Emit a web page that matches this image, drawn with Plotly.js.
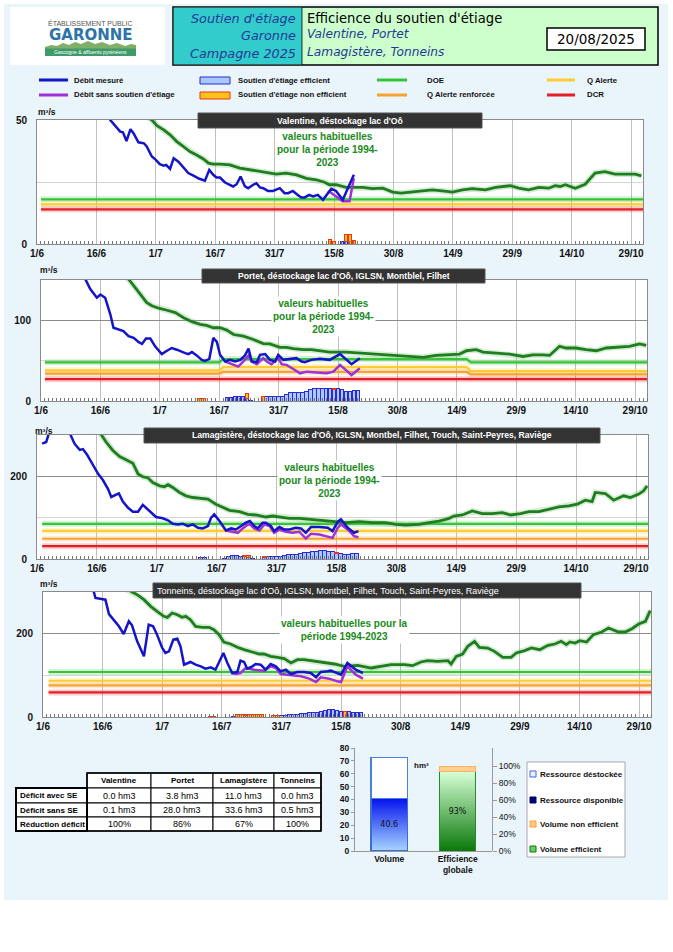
<!DOCTYPE html>
<html><head><meta charset="utf-8">
<script src="https://cdn.plot.ly/plotly-3.0.1.min.js"></script>
<style>html,body{margin:0;padding:0;background:#fff;}#chart{width:673px;height:952px;}</style>
</head><body><div id="chart"></div>
<script>
// ===== DATA (day offsets from 1 June 2025) =====
// Panel 1 : Valentine
const p1MesJ = [1,5,10,15,18.5,19.8,21,21.7,22.6,23.6,24.4,25.6,27,27.7,29,30,31,32,32.6,33.6,34.5,35.7,37,38.2,39.5,41,42.4,43.5,44.5,45.3,46.2,47.4,48.3,49.5,50.4,51.4,52.5,53.3,54.6,55.4,56.3,57.1,58.3,59.6,61.3,62.5,63.4,64.6,65.6,66.7,67.6,68.7,69.7,70.9,72.2,73.4,74.3,75.5,77.2,80];
const p1Mes = [95,85,72,60,50,47.7,45.3,45,41.5,46.3,44.6,41,40.6,39.3,35.3,33.9,32.2,31.6,31.9,30.3,34.6,33.2,30.6,28.6,27.6,26.3,25.5,29.9,27.9,26.8,26.8,24.9,24.1,23.2,24.1,27.2,23.2,22.5,23.9,24.5,22.8,22.5,21.4,21.4,22.5,20.5,20.5,21.4,20.1,18.8,18.8,19.8,19.2,19.8,17.8,20.5,22.3,21.4,17.8,27.9];
const p1SansJ = [73.4,73.8,75,77.2,78.9,80];
const p1Sans = [20.5,21.2,19.8,17.2,17.2,26.5];
const p1RefJ = [1,15,25,29,30.3,32,33.6,35.3,37,38.6,40.3,42,43.3,44.5,46.2,48.7,51.2,53.7,56.2,58.8,60.4,62.9,65.5,68,70.5,72.6,73.8,75.5,78,82.2,84.7,87.3,89.8,91.9,94,96.5,99.8,102.3,104.9,107.4,109.9,113.2,115.8,119.5,121.6,124.1,126.7,129.2,130.8,132.1,133.4,135.9,138.4,140.9,143.4,145.9,148.5,151,152.6];
const p1Ref = [75,62,54,50,47.7,46,44,41.3,39.3,37.3,35.9,34.3,32.6,32.2,32.2,31.9,30.6,29.9,29.2,28.6,28.2,28.6,27.9,26.5,25.9,24.9,23.9,23.9,22.8,22.8,22.3,22.5,20.9,20.5,20.9,21.4,21.8,21.4,20.9,21.8,22.3,21.8,22.8,23.5,22.5,21.8,22.8,22.5,23.5,23.2,23.9,22.5,24.1,28.6,29.2,28.2,28.3,28.2,27.5];
const p1SeuilJ = [1,153];
const p1DOE = [18,18];
const p1QA = [16,16];
const p1QAR = [];
const p1DCR = [14,14];
const p1BarJ = [74,75,77,78,79,80];
const p1Eff = [0,0,1.2,1,0,0];
const p1Non = [1.7,1,0,3,4,1.5];

// Panel 2 : Portet
const p2MesJ = [1,5,9,11.2,12.4,14.1,15,16.2,17.5,18.3,19.6,20.8,22.1,23.4,24.6,25.5,26.5,27.6,28.8,30.5,31.8,33,34.3,35.5,36.4,37.2,38.1,39.3,40.6,41.4,42.5,43.5,44.4,45.2,46.5,47.7,49,50.3,51.5,52.4,53.2,54.5,55.3,56.6,57.8,59.1,59.9,61.2,62.9,64.5,65.8,66.6,68.3,70.4,72.9,75.5,78.4,80.5];
const p2Mes = [230,200,170,151,139,128,132,128,107.5,90.8,88.7,86.6,80.3,78.2,73.2,70.7,77.4,77.4,67.8,58.2,62.3,65.7,63.6,60.7,59.4,58.2,60.7,56.5,51,49.8,52.3,78.2,73.2,57.3,49,51,49,51,56.5,64.9,49,48.1,57.3,58.2,51,49,57.3,51,52.3,53.1,49,48.1,51,52.3,51,58.2,45.6,53.1];
const p2SansJ = [46.5,48.6,49.8,51.1,52.4,53.2,54.5,56.1,57,58.2,59.9,60.8,62,63.7,65.4,67.1,69.6,72.1,73.8,75.5,78.4,80.5];
const p2Sans = [49,44.8,42.7,49,56.5,49,45.6,53.1,49,45.6,53.1,45.6,44.8,39.7,34.3,36.4,35.6,34.3,36.4,44.8,32.2,40.6];
const p2RefJ = [1,10,20,22.1,23.4,25,26.7,28,29.7,31.8,33.9,36,38.1,40.2,41.8,43.5,45.2,46.9,48.6,51.1,53.6,56.1,57.8,60.3,62,63.7,66.2,68.3,70.4,72.9,77.1,81.3,85.5,89.7,93.1,96.5,99.8,103.2,105.7,107.4,109.9,111.6,115,118.3,121.7,124.2,126.7,128.4,129.7,130.9,132.6,135.1,137.6,140.2,142.7,145.2,148.6,151.1,152.8];
const p2Ref = [220,190,160,151,143,132.6,122,118,115,112.5,109.6,103.3,98.3,95,93.7,90.8,90.8,87.9,82.4,80.3,76.2,71.1,70.7,66.5,66.5,64.9,63.6,63.6,62.3,60.7,60.7,59.4,58.2,56.5,55.2,54,56.5,57.3,58.2,62.3,63.6,60.7,59.4,58.2,55.2,57.3,57.3,56.5,62.3,67.8,65.7,65.7,63.6,62.3,65.7,66.5,67.8,70.7,69.1];
const p2SeuilJ = [1,45,46,107.5,108.5,153];
const p2DOE = [48,48,52,52,48,48];
const p2QA = [38,38,42,42,37,37];
const p2QAR = [34,34,36,36,33,33];
const p2DCR = [27,27,27,27,27,27];
const p2BarJ = [40,41,47,48,49,50,51,52,53,56,57,58,59,60,61,62,63,64,65,66,67,68,69,70,71,72,73,74,75,76,77,78,79,80];
const p2Eff = [0,0,4,4,6,6,5,3,1,0,5,5,5,6,6,8,10,11,11,11,12,14,16,16,16,16,15,14,15,14,12,12,13,13];
const p2Non = [3,3,0,0,0,0,0,6,0,5,0,0,0,0,0,0,0,0,0,0,0,0,0,0,0,0,0,1,0,0,0,0,0,0];

// Panel 3 : Lamagistère
const p3MesJ = [1.3,2.3,3.5,5,7,8.3,9.4,10.7,11.5,12.5,14,15.3,16.5,17.8,18.6,19.4,20.5,21.5,22.8,24,25.3,26.5,27.8,29,29.8,31.5,32.8,34,35.3,36.5,37.8,39,40.3,41.5,42.8,43.6,44.4,45.7,47.3,48.6,49.8,51.1,52.3,53.3,54.4,55.3,56.5,57.3,58.6,59.4,60.7,61.9,63.2,64.8,66.1,67.3,68.6,70.7,72.8,74,75.3,76.1,77.8,79.4,80.5];
const p3Mes = [279,283,320,350,330,300,279,264,266,253,228,206,191,169,150,152.8,158.5,139,124,114.6,114.6,131,120,108,101.6,98.4,93.5,85.4,83.7,85.4,79.7,83.7,75.6,74,79.7,100,108,91.9,69.1,74,71.5,79.7,87.8,91.9,79.7,74,87.8,87.8,79.7,67.5,77.2,71.5,71.5,75.6,74,63.4,77.2,77.2,75.6,67.5,90,96,75.6,63.4,67.5];
const p3SansJ = [47.3,49,50.3,51.5,52.8,53.3,54.4,55.7,56.9,58.2,59.4,60.7,62.3,64,65.7,67.3,68.6,70.7,72.8,74,75.3,76.1,77.8,79.4,80.5];
const p3Sans = [69.1,65.9,63.4,74,83.7,83.7,74,69,83.7,79.7,63.4,71.5,65.9,63.4,65.9,49.6,61,59.3,55.3,51.2,75,83.7,71.5,55.3,52.8];
const p3RefJ = [1,10,16,17.3,19,20.7,22.3,24,25.3,26.5,27.8,29,30.7,31.9,32.8,34,35.7,37.3,39,41.5,42.8,44.8,46.5,48.2,50.7,52.8,54.8,57.3,59,61.5,63.2,65.7,68.2,70.7,73.2,77.3,80.7,84,87.3,89.8,92.3,95.7,98.2,100.7,103.2,104.4,106.5,109,111.5,114,116.5,118.6,121.1,123.2,125.7,128.2,130.7,133.2,135.3,137.3,139,139.8,142.3,144.4,146.9,148.6,150.7,151.9,152.8];
const p3Ref = [420,360,302,283,262.6,248,240,231.7,205.7,199,196,185,177,174.8,179.7,173,161,152.8,148.8,147,144.7,132.5,124.4,117.9,114.6,108,106.5,101.6,104,101.6,98.4,98.4,96,93.5,90.2,87.8,90.2,87.8,87.8,83.7,82,83.7,87.8,91.9,98.4,104,106.5,116.3,109.8,109.8,112.2,106.5,109.8,114.6,114.6,120.3,126,128.5,132.5,142.3,139,161,158.5,142.3,152.8,148.8,157,165,177];
const p3SeuilJ = [1.3,153];
const p3DOE = [85,85];
const p3QA = [68,68];
const p3QAR = [49,49];
const p3DCR = [31,31];
const p3BarJ = [41,42,47,48,49,50,51,52,53,54,57,58,59,60,61,62,63,64,65,66,67,68,69,70,71,72,73,74,75,76,77,78,79,80];
const p3Eff = [2.5,2.5,2,5,8,9,7,5,4,1,3,5,5,6,7,8,10,12,12,13,15,15,17,19,20,20,19,17,14,14,12,12,13,13];
const p3Non = [0,0,0,0,0,0,0,3,5,0,2,0,0,0,0,0,0,0,0,0,0,0,0,0,0,0,0,0,2,0,0,0,0,0];

// Panel 4 : Tonneins
const p4MesJ = [1,6,10,12.8,13.2,14.5,15.7,16.6,17.8,19.1,20.3,21.6,22.4,23.7,25.4,26.6,27.7,28.7,30,30.8,31.7,32.8,33.8,34.6,35.5,37.1,38.4,39.7,40.9,42.2,43.4,44.5,45.4,46.4,47.6,48.9,49.7,50.6,51.4,52.7,53.5,54.8,56,57.3,58.6,59.8,61.1,62.4,64,65.7,67.4,68.7,69.9,71.6,72.4,75,76.6,78.7,80.5];
const p4Mes = [420,380,340,300,285.6,284,281.6,247,233.6,217.6,199,229.6,220,181.6,145.6,221.6,217.6,197.6,165.6,153.6,157.6,185.6,188,169.6,125.6,132,125.6,121.6,116,119.2,113.6,133.6,153.6,129.6,105.6,108,135.2,132,116,121.6,127.2,125.6,113.6,127.2,121.6,109.6,113.6,103.2,108,108,105.6,95.2,108,109.6,111.2,101.6,129.6,113.6,105.6];
const p4SansJ = [47.6,48.5,49.7,51,53.1,55.6,57.3,58.6,59.8,61.5,63.2,64.9,67,68.7,69.9,72,74.1,75,76.6,78.7,80.5];
const p4Sans = [105.6,103.2,105.6,117.6,113.6,111.2,121.6,117.6,103.2,101.6,100,97.6,92,84,95.2,92,85.6,84,121.6,101.6,92];
const p4RefJ = [1,15,22.4,23.7,25.4,27.1,28.7,30.4,31.3,32.5,33.8,35,35.9,37.1,38.4,40.1,41.8,43,44.3,45.5,47.2,48.9,50.6,52.7,54.4,55.6,57.3,59,60.7,62.4,64,65.7,67.4,69.1,70.8,73.3,75.8,79.2,82.6,85.2,87.6,91,93,95.1,96.8,99.3,101.9,102.7,104,105.6,106.9,108.6,109.8,111.9,113.6,115.7,117.8,119.1,121.2,122.9,125,127.1,128.8,130.4,131.7,132.6,133.9,135.1,136.8,138.5,140.6,142.3,144.8,146.5,148.2,149.9,151.6,152.8];
const p4Ref = [420,340,300,293.6,281.6,265.6,253.6,241.6,239.2,249.6,245.6,239.2,241.6,233.6,217.6,215.2,215.2,209.6,197.6,180,175.2,167.2,161.6,156,151.2,151.2,145.6,143.2,140,129.6,137.6,137.6,135.2,132,129.6,127.2,121.6,124,117.6,121.6,125.6,125.6,123.2,132,135.2,133.6,135.2,127.2,145.6,151.2,169.6,181.6,167.2,165.6,157.6,143.2,143.2,153.6,159.2,165.6,161.6,172,175.2,181.6,173.6,180,177.6,183.2,180,197.6,204,213.6,204,204,212,223.2,229.6,255.2];
const p4SeuilJ = [1.4,153];
const p4DOE = [108,108];
const p4QA = [87,87];
const p4QAR = [76,76];
const p4DCR = [59,59];
const p4BarJ = [42,43,48,49,50,51,52,53,54,55,58,59,60,61,62,63,64,65,66,67,68,69,70,71,72,73,74,75,76,77,78,79,80];
const p4Eff = [0,0,2,0,0,3,0,0,0,0,0,0,4,4,5,6,7,8,9,10,12,12,14,16,17,17,16,14,0,13,12,12,12];
const p4Non = [2,2,0,5,6,4,6,7,7,5,4,4,0,0,0,0,0,0,0,0,0,0,0,0,0,0,0,0,14,0,0,0,0];

const panelTitles = [
  "Valentine, déstockage lac d'Oô",
  "Portet, déstockage lac d'Oô, IGLSN, Montblel, Filhet",
  "Lamagistère, déstockage lac d'Oô, IGLSN, Montbel, Filhet, Touch, Saint-Peyres, Raviège",
  "Tonneins, déstockage lac d'Oô, IGLSN, Montbel, Filhet, Touch, Saint-Peyres, Raviège"
];
const panelYMax = [50,150,300,300];

// Bottom table
const tableStations = ['Valentine','Portet','Lamagistère','Tonneins'];
const tableRows = ['Déficit avec SE','Déficit sans SE','Réduction déficit'];
const deficitAvecSE = [0.0,3.8,11.0,0.0];
const deficitSansSE = [0.1,28.0,33.6,0.5];
const reductionDeficit = [100,86,67,100];

// Bottom chart
const volRessource = 72.5;   // hm3
const volDestocke = 40.6;    // hm3
const effEfficient = 93;     // %
const effNonEfficient = 7;   // %

// ===== BUILD =====
const W=673,H=952;
const px = x => x/W, py = y => 1 - y/H;
const DAY = 86400000, T0 = Date.UTC(2025,5,1);
const toDate = d => new Date(T0 + d*DAY).toISOString().slice(0,16).replace('T',' ');
const FB = 'Liberation Sans, Arial, sans-serif';
const FN = 'Liberation Sans Narrow, Liberation Sans, Arial, sans-serif';
const FD = 'DejaVu Sans, Verdana, sans-serif';
const C = {mes:'#1414c8', sans:'#a030d8', ref:'#1f7d1f', doe:'#35c435', qa:'#ffcc33', qar:'#f7a234', dcr:'#e41e26',
  effFill:'#a9c8ff', effLine:'#2a2ad0', nonFill:'#ffc21a', nonLine:'#ee3311'};

const traces=[], shapes=[], annotations=[], images=[];
const layout = {width:W, height:H, margin:{l:0,r:0,t:0,b:0}, paper_bgcolor:'#ffffff', plot_bgcolor:'rgba(0,0,0,0)',
  showlegend:false, barmode:'stack', bargap:0, hovermode:false, shapes, annotations, images};

function txt(x,y,text,o){ annotations.push(Object.assign({xref:'paper',yref:'paper',x:px(x),y:py(y),text,showarrow:false,
  xanchor:'left',yanchor:'middle',font:{family:FB,size:8,color:'#111'}},o||{})); }
function rect(x0,y0,x1,y1,fill,line,lw,layer){ shapes.push({type:'rect',xref:'paper',yref:'paper',x0:px(x0),x1:px(x1),y0:py(y1),y1:py(y0),
  fillcolor:fill,line:{color:line||'rgba(0,0,0,0)',width:lw||0},layer:layer||'above'}); }
function seg(x0,y0,x1,y1,color,w){ shapes.push({type:'line',xref:'paper',yref:'paper',x0:px(x0),x1:px(x1),y0:py(y0),y1:py(y1),line:{color,width:w}}); }
function path(pts,fill){ shapes.push({type:'path',xref:'paper',yref:'paper',path:'M'+pts.map(p=>px(p[0]).toFixed(5)+','+py(p[1]).toFixed(5)).join(' L')+' Z',fillcolor:fill,line:{width:0}}); }

// page background
rect(4,4,668,900,'#eaf4fb',null,0,'below');

// ---- Header ----
rect(10,7,165,65,'#ffffff',null,0,'below');
txt(90,22.5,'ÉTABLISSEMENT PUBLIC',{xanchor:'center',font:{family:FN,size:7,color:'#555'}});
txt(90.5,35,'GARONNE',{xanchor:'center',font:{family:FD,size:15,color:'#2c74a8',weight:'bold'}});
path([[45,56],[45,47],[51,45],[57,46],[63,43],[69,45],[75,42],[81,44],[88,41],[95,44],[102,42],[110,45],[117,43],[125,46],[131,44],[136,45],[136,56]],'#7fb069');
rect(45,48.5,136,56,'#3f9a6a',null,0);
txt(90.5,52.3,'Gascogne & affluents pyrénéens',{xanchor:'center',font:{family:FN,size:5,color:'#ffffff'}});

rect(173,7,658,65,'#ccffcc','#000000',1.5);
rect(173.8,7.8,302,64.2,'#33cccc',null,0);
seg(302,7,302,65,'#000',0.8);
const hdrBlue = '#1f3a93';
txt(298,18,"Soutien d'étiage",{xanchor:'right',font:{family:FD,size:12.8,color:hdrBlue,style:'italic'}});
txt(298,36,'Garonne',{xanchor:'right',font:{family:FD,size:12.8,color:hdrBlue,style:'italic'}});
txt(298,53,'Campagne 2025',{xanchor:'right',font:{family:FD,size:12.8,color:hdrBlue,style:'italic'}});
txt(305,18,"Efficience du soutien d'étiage",{font:{family:FD,size:13.2,color:'#000'}});
txt(305,34,'Valentine, Portet',{font:{family:FD,size:12.2,color:hdrBlue,style:'italic'}});
txt(305,52,'Lamagistère, Tonneins',{font:{family:FD,size:12.2,color:hdrBlue,style:'italic'}});
rect(547,28,645,50,'#ffffff','#000000',1.5);
txt(596,39.5,'20/08/2025',{xanchor:'center',font:{family:FD,size:13.5,color:'#000'}});

// ---- Top legend ----
const LF = {family:FN,size:7.8,color:'#111',weight:'bold'};
seg(39,80,68,80,C.mes,3); txt(72,80,'Débit mesuré',{font:LF});
seg(39,95,68,95,C.sans,3); txt(72,95,"Débit sans soutien d'étiage",{font:LF});
rect(200,77,230,84,C.effFill,C.effLine,1); txt(236,80,"Soutien d'étiage efficient",{font:LF});
rect(200,92,230,99,C.nonFill,C.nonLine,1); txt(236,95,"Soutien d'étiage non efficient",{font:LF});
seg(377,80,407,80,C.doe,3); txt(425,80,'DOE',{font:LF});
seg(377,95,407,95,C.qar,3); txt(425,95,'Q Alerte renforcée',{font:LF});
seg(547,80,575,80,C.qa,3); txt(585,80,'Q Alerte',{font:LF});
seg(547,95,575,95,C.dcr,3); txt(585,95,'DCR',{font:LF});

// ---- Panels ----
const panels = [
  {mesJ:p1MesJ,mes:p1Mes,sansJ:p1SansJ,sans:p1Sans,refJ:p1RefJ,ref:p1Ref,sJ:p1SeuilJ,doe:p1DOE,qa:p1QA,qar:p1QAR,dcr:p1DCR,barJ:p1BarJ,eff:p1Eff,non:p1Non,
   box:[37,643,120,244],dt:[50,25],title:[198,482,113,128],mu:[36,112],note:[327,149]},
  {mesJ:p2MesJ,mes:p2Mes,sansJ:p2SansJ,sans:p2Sans,refJ:p2RefJ,ref:p2Ref,sJ:p2SeuilJ,doe:p2DOE,qa:p2QA,qar:p2QAR,dcr:p2DCR,barJ:p2BarJ,eff:p2Eff,non:p2Non,
   box:[41,647,280,401],dt:[100,50],title:[202,485,269,283],mu:[38,270],note:[323,317]},
  {mesJ:p3MesJ,mes:p3Mes,sansJ:p3SansJ,sans:p3Sans,refJ:p3RefJ,ref:p3Ref,sJ:p3SeuilJ,doe:p3DOE,qa:p3QA,qar:p3QAR,dcr:p3DCR,barJ:p3BarJ,eff:p3Eff,non:p3Non,
   box:[37,648,435,559],dt:[200,100],title:[144,600,428,443],mu:[33,431],note:[329,480]},
  {mesJ:p4MesJ,mes:p4Mes,sansJ:p4SansJ,sans:p4Sans,refJ:p4RefJ,ref:p4Ref,sJ:p4SeuilJ,doe:p4DOE,qa:p4QA,qar:p4QAR,dcr:p4DCR,barJ:p4BarJ,eff:p4Eff,non:p4Non,
   box:[43,651,592,717],dt:[200,100],title:[153,581,583,598],mu:[38,584],note:[345,630]}
];
const notes = ['valeurs habituelles<br>pour la période 1994-<br>2023','valeurs habituelles<br>pour la période 1994-<br>2023',
  'valeurs habituelles<br>pour la période 1994-<br>2023','valeurs habituelles pour la<br>période 1994-2023'];

panels.forEach((P,k)=>{
  const n = k+1, xa='x'+n, ya='y'+n;
  const [X0,X1,Y0,Y1] = P.box;
  layout['xaxis'+n] = {domain:[px(X0),px(X1)], anchor:ya, type:'date', range:[toDate(0),toDate(153)],
    tick0:toDate(0), dtick:15*DAY, tickformat:'%-d/%-m', ticks:'', showgrid:true, gridcolor:'#c0c0c0', gridwidth:1,
    showline:true, linecolor:'#8a8a8a', linewidth:1, mirror:true, zeroline:false, fixedrange:true,
    tickfont:{family:FB,size:10,color:'#111',weight:'bold'},
    minor:{dtick:DAY, tick0:toDate(0), ticks:'inside', ticklen:3, tickcolor:'#777', tickwidth:1, showgrid:false}};
  layout['yaxis'+n] = {domain:[py(Y1),py(Y0)], anchor:xa, range:[0,panelYMax[k]], tick0:0, dtick:P.dt[0],
    showgrid:true, gridcolor:'#8c8c8c', gridwidth:1, ticks:'', zeroline:false, fixedrange:true,
    showline:true, linecolor:'#8a8a8a', linewidth:1, mirror:true, ticklabelstandoff:7,
    tickfont:{family:FB,size:10,color:'#111',weight:'bold'},
    minor:{dtick:P.dt[1], tick0:0, showgrid:true, gridcolor:'#d4d4d4', gridwidth:1, ticks:''}};
  shapes.push({type:'rect', xref:xa+' domain', yref:ya+' domain', x0:0,x1:1,y0:0,y1:1, fillcolor:'#ffffff', line:{width:0}, layer:'below'});

  const bx = P.barJ.map(toDate);
  traces.push({type:'bar', x:bx, y:P.eff.map(v=>v||null), xaxis:xa, yaxis:ya, width:DAY*0.9,
    marker:{color:C.effFill, line:{color:C.effLine,width:1}}});
  traces.push({type:'bar', x:bx, y:P.non.map(v=>v||null), xaxis:xa, yaxis:ya, width:DAY*0.9,
    marker:{color:C.nonFill, line:{color:C.nonLine,width:1}}});

  const sx = P.sJ.map(toDate);
  [[P.doe,C.doe],[P.qa,C.qa],[P.qar,C.qar],[P.dcr,C.dcr]].forEach(([v,c])=>{
    if(!v.length) return;
    traces.push({type:'scatter',mode:'lines',x:sx,y:v,xaxis:xa,yaxis:ya,line:{color:c,width:6},opacity:0.22});
    traces.push({type:'scatter',mode:'lines',x:sx,y:v,xaxis:xa,yaxis:ya,line:{color:c,width:2.2}});
  });
  traces.push({type:'scatter',mode:'lines',x:P.refJ.map(toDate),y:P.ref,xaxis:xa,yaxis:ya,line:{color:'#6fbf6f',width:6},opacity:0.3});
  traces.push({type:'scatter',mode:'lines',x:P.refJ.map(toDate),y:P.ref,xaxis:xa,yaxis:ya,line:{color:C.ref,width:2.8}});
  traces.push({type:'scatter',mode:'lines',x:P.sansJ.map(toDate),y:P.sans,xaxis:xa,yaxis:ya,line:{color:C.sans,width:2.5}});
  traces.push({type:'scatter',mode:'lines',x:P.mesJ.map(toDate),y:P.mes,xaxis:xa,yaxis:ya,line:{color:C.mes,width:2.5}});

  const [t0,t1,ty0,ty1] = P.title;
  rect(t0,ty0,t1,ty1,'#333333','#555555',1);
  if(k<3) txt((t0+t1)/2,(ty0+ty1)/2,panelTitles[k],{xanchor:'center',font:{family:FB,size:8.6,color:'#fff',weight:'bold'}});
  else txt(t0+2,(ty0+ty1)/2,panelTitles[k],{font:{family:FB,size:9,color:'#fff'}});
  txt(P.mu[0],P.mu[1],'m³/s',{font:{family:FB,size:8.5,color:'#111',weight:'bold'}});
  txt(P.note[0],P.note[1],notes[k],{xanchor:'center',align:'center',bgcolor:'#ffffff',borderpad:1,
    font:{family:FB,size:10,color:'#1a8a1a',weight:'bold'}});
});

// ---- Table ----
const tX=[16,87,151,213,274,321], tY=[773,788,803,817,831];
for(let c=1;c<=4;c++) rect(tX[c],tY[0],tX[c+1],tY[1],'#ffffff','#000',1);
for(let r=1;r<=3;r++) for(let c=0;c<=4;c++) rect(tX[c],tY[r],tX[c+1],tY[r+1],'#ffffff','#000',1);
rect(tX[0],tY[1],tX[1],tY[4],'rgba(0,0,0,0)','#000',2);
rect(tX[1],tY[0],tX[5],tY[4],'rgba(0,0,0,0)','#000',1.6);
const TH = {family:FN,size:8,color:'#000',weight:'bold'};
tableStations.forEach((s,c)=>txt((tX[c+1]+tX[c+2])/2,(tY[0]+tY[1])/2,s,{xanchor:'center',font:TH}));
tableRows.forEach((s,r)=>txt(tX[0]+2,(tY[r+1]+tY[r+2])/2,s,{font:TH}));
const TV = {family:FB,size:9,color:'#000'};
const rowsVals = [deficitAvecSE.map(v=>v.toFixed(1)+' hm3'), deficitSansSE.map(v=>v.toFixed(1)+' hm3'), reductionDeficit.map(v=>v+'%')];
rowsVals.forEach((row,r)=>row.forEach((s,c)=>txt((tX[c+1]+tX[c+2])/2,(tY[r+1]+tY[r+2])/2,s,{xanchor:'center',font:TV})));

// ---- Bottom bar chart ----
function grad(top,bottom){ const cv=document.createElement('canvas'); cv.width=4; cv.height=256;
  const g=cv.getContext('2d'); const lg=g.createLinearGradient(0,0,0,256); lg.addColorStop(0,top); lg.addColorStop(1,bottom);
  g.fillStyle=lg; g.fillRect(0,0,4,256); return cv.toDataURL('image/png'); }
const BW = 0.53;
const bDom = [px(355),px(492)], bYDom = [py(851),py(748)];
layout.xaxis5 = {domain:bDom, anchor:'y5', range:[-0.5,1.5], tickvals:[0,1], ticktext:['Volume','Efficience<br>globale'],
  showgrid:false, zeroline:false, showline:true, linecolor:'#999', ticks:'', fixedrange:true,
  tickfont:{family:FB,size:8.5,color:'#111',weight:'bold'}};
layout.yaxis5 = {domain:bYDom, anchor:'x5', range:[0,80], dtick:10, showgrid:false, zeroline:false,
  showline:true, linecolor:'#999', ticks:'outside', ticklen:3, tickcolor:'#999', fixedrange:true,
  tickfont:{family:FB,size:8.5,color:'#111',weight:'bold'}};
layout.xaxis6 = {domain:bDom, anchor:'y6', range:[-0.5,1.5], visible:false, fixedrange:true};
layout.yaxis6 = {domain:bYDom, anchor:'x6', side:'right', range:[0,103/85], tickvals:[0,0.2,0.4,0.6,0.8,1], tickformat:'.0%',
  showgrid:false, zeroline:false, showline:true, linecolor:'#999', ticks:'outside', ticklen:4, tickcolor:'#999', fixedrange:true,
  tickfont:{family:FB,size:8.5,color:'#111'}};
traces.push({type:'bar', x:[0], y:[volDestocke], xaxis:'x5', yaxis:'y5', width:BW, text:[volDestocke.toFixed(1)],
  textposition:'inside', insidetextanchor:'middle', textangle:0, textfont:{family:FD,size:8,color:'#111'},
  marker:{color:'rgba(0,0,0,0)', line:{color:'#3b6fd6',width:1.5}}});
traces.push({type:'bar', x:[0], y:[volRessource-volDestocke], xaxis:'x5', yaxis:'y5', width:BW,
  marker:{color:'#ffffff', line:{color:'#4a7fe0',width:1.5}}});
traces.push({type:'bar', x:[1], y:[effEfficient/100], xaxis:'x6', yaxis:'y6', width:BW, text:[effEfficient+'%'],
  textposition:'inside', insidetextanchor:'middle', textangle:0, textfont:{family:FD,size:8,color:'#111'},
  marker:{color:'rgba(0,0,0,0)', line:{color:'#2a8a2a',width:1}}});
traces.push({type:'bar', x:[1], y:[effNonEfficient/100], xaxis:'x6', yaxis:'y6', width:BW,
  marker:{color:'#ffd08e', line:{color:'#ffb060',width:1}}});
images.push({source:grad('#0514ee','#a8d6ff'), xref:'x5', yref:'y5', x:-BW/2, y:volDestocke, sizex:BW, sizey:volDestocke,
  sizing:'stretch', xanchor:'left', yanchor:'top', layer:'below'});
images.push({source:grad('#d6ffd6','#0a780a'), xref:'x6', yref:'y6', x:1-BW/2, y:effEfficient/100, sizex:BW, sizey:effEfficient/100,
  sizing:'stretch', xanchor:'left', yanchor:'top', layer:'below'});
txt(412,765,'hm³',{font:{family:FB,size:8,color:'#111',weight:'bold'}});

// legend box for bottom chart
rect(527,762,625,857,'#ffffff','#aaaaaa',1);
const BL = {family:FN,size:8,color:'#111',weight:'bold'};
const legItems = [['Ressource déstockée','#eef4ff','#3366ff',774],['Ressource disponible','#000080','#000060',800],
  ['Volume non efficient','#ffcc88','#ff9933',824],['Volume efficient','#66cc66','#117711',849]];
legItems.forEach(([t,f,l,y])=>{ rect(530,y-3,536,y+3,f,l,1); txt(538,y,t,{font:BL}); });

Plotly.newPlot('chart', traces, layout, {staticPlot:true, displayModeBar:false});
</script></body></html>
